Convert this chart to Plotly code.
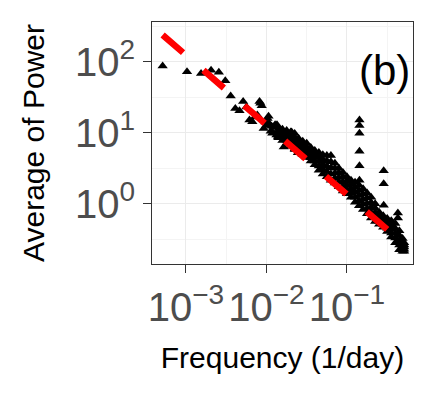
import plotly.graph_objects as go

# low-frequency points (read individually)
low_freq = [0.000513, 0.00103, 0.00154, 0.00205, 0.00256, 0.00308, 0.00359, 0.0041,
            0.00462, 0.00513, 0.00564, 0.00615, 0.00667, 0.00718, 0.00769, 0.0082,
            0.00872, 0.00923, 0.00974, 0.0103, 0.0108, 0.0113, 0.0118, 0.0123,
            0.0128, 0.0133, 0.0144, 0.0154, 0.0164, 0.0174, 0.0185, 0.0195,
            0.0205, 0.0215, 0.0226, 0.0236, 0.0246, 0.0256,
            0.0084, 0.0099, 0.0106, 0.0116, 0.0121, 0.0135, 0.0139]
low_power = [87, 72, 68, 76, 71, 54, 33, 22,
             20.4, 27.5, 23, 15.1, 14.3, 16.6, 17.8, 27.5,
             24, 11.5, 14.1, 15.8, 13.5, 10.5, 9.8, 12,
             12.9, 9.3, 10.5, 8.5, 6.3, 8.9, 7.6, 8.3,
             10.2, 6.9, 5.8, 7.6, 5.2, 6.6,
             26, 12.6, 17, 12.3, 10, 12.9, 8.7]

# dense high-frequency band: estimated spread of points per frequency,
# from the top of the band down to its bottom
band_freq = [0.0141, 0.0158, 0.0178, 0.0200, 0.0224,
             0.0251, 0.0282, 0.0316, 0.0355, 0.0398, 0.0447, 0.0501, 0.0562,
             0.0631, 0.0708, 0.0794, 0.0891, 0.1, 0.1122, 0.1259, 0.1413,
             0.1585, 0.1778, 0.1995, 0.2239, 0.2512, 0.2818, 0.3162, 0.3548,
             0.3981, 0.4467, 0.4898, 0.5129]
band_p1 = [11.5, 11.2, 10.7, 10.2, 9.77,
           8.32, 7.59, 7.08, 6.17, 5.62, 5.25, 4.90, 4.79,
           4.79, 3.72, 3.16, 2.75, 2.40, 2.14, 2.00, 1.82,
           1.62, 1.41, 1.23, 1.00, 0.759, 0.676, 0.617, 0.575,
           0.525, 0.417, 0.324, 0.282]
band_p2 = [10.7, 10.2, 9.66, 9.12, 8.61,
           7.45, 6.80, 6.31, 5.53, 5.01, 4.55, 4.19, 4.03,
           3.91, 3.16, 2.72, 2.37, 2.09, 1.86, 1.70, 1.54,
           1.37, 1.20, 1.04, 0.866, 0.688, 0.617, 0.556, 0.504,
           0.449, 0.357, 0.292, 0.263]
band_p3 = [9.89, 9.33, 8.71, 8.13, 7.59,
           6.68, 6.10, 5.62, 4.95, 4.47, 3.94, 3.59, 3.39,
           3.20, 2.69, 2.34, 2.04, 1.82, 1.62, 1.45, 1.30,
           1.16, 1.01, 0.881, 0.750, 0.624, 0.562, 0.501, 0.442,
           0.385, 0.305, 0.263, 0.245]
band_p4 = [9.17, 8.51, 7.85, 7.24, 6.68,
           5.99, 5.47, 5.01, 4.44, 3.98, 3.41, 3.07, 2.85,
           2.62, 2.29, 2.02, 1.76, 1.58, 1.41, 1.23, 1.10,
           0.983, 0.856, 0.746, 0.649, 0.566, 0.513, 0.452, 0.387,
           0.329, 0.262, 0.237, 0.229]
band_p5 = [8.51, 7.76, 7.08, 6.46, 5.89,
           5.37, 4.90, 4.47, 3.98, 3.55, 2.95, 2.63, 2.40,
           2.14, 1.95, 1.74, 1.51, 1.38, 1.23, 1.05, 0.933,
           0.832, 0.724, 0.631, 0.562, 0.513, 0.468, 0.407, 0.339,
           0.282, 0.224, 0.214, 0.214]

# weekly peaks (1/7, 2/7, 3/7 per day)
spike_freq = [0.1429, 0.1429, 0.1429, 0.1429, 0.1429, 0.1429,
              0.2857, 0.2857, 0.2857, 0.4286, 0.4286]
spike_power = [15.1, 12.6, 9.8, 5.5, 3.43, 2.14,
               2.92, 1.91, 0.955, 0.74, 0.63]

# fitted power law
fit_freq = [0.000513, 0.5]
fit_power = [238, 0.277]

x_ticks = [0.001, 0.01, 0.1]
x_ticktext = ["10<sup>\u22123</sup>", "10<sup>\u22122</sup>", "10<sup>\u22121</sup>"]
y_ticks = [1, 10, 100]
y_ticktext = ["10<sup>0</sup>", "10<sup>1</sup>", "10<sup>2</sup>"]
x_minor = [0.000316, 0.00316, 0.0316, 0.316]
y_minor = [0.316, 3.16, 31.6, 316]

freq = low_freq + band_freq * 5 + spike_freq
power = low_power + band_p1 + band_p2 + band_p3 + band_p4 + band_p5 + spike_power

fig = go.Figure()
fig.add_trace(
    go.Scatter(
        x=freq,
        y=power,
        mode="markers",
        marker=dict(symbol="triangle-up", size=9, color="black"),
    )
)
fig.add_trace(
    go.Scatter(
        x=fit_freq,
        y=fit_power,
        mode="lines",
        line=dict(color="#FF0000", width=6.5, dash="27px,27px"),
    )
)

fig.add_annotation(
    x=0.889, y=0.80, xref="paper", yref="paper",
    xanchor="center", yanchor="middle",
    text="(b)", showarrow=False,
    font=dict(size=42, color="black"),
)

axis_style = dict(
    type="log",
    tickangle=0,
    tickfont=dict(size=40, color="#4D4D4D"),
    ticks="outside",
    ticklen=8,
    tickcolor="#333333",
    showline=True,
    linecolor="#333333",
    linewidth=1,
    mirror=True,
    showgrid=True,
    gridcolor="#EBEBEB",
    gridwidth=1,
    zeroline=False,
)

fig.update_xaxes(
    **axis_style,
    range=[-3.422, -0.180],
    tickmode="array",
    tickvals=x_ticks,
    ticktext=x_ticktext,
    minor=dict(tickvals=x_minor, showgrid=True, gridcolor="#F4F4F4", ticks=""),
    title=dict(text="Frequency (1/day)", font=dict(size=30, color="black"), standoff=18),
)
fig.update_yaxes(
    **axis_style,
    range=[-0.849, 2.559],
    tickmode="array",
    tickvals=y_ticks,
    ticktext=y_ticktext,
    minor=dict(tickvals=y_minor, showgrid=True, gridcolor="#F4F4F4", ticks=""),
    title=dict(text="Average of Power", font=dict(size=30, color="black"), standoff=21),
)

fig.update_layout(
    width=436,
    height=395,
    margin=dict(l=152, r=23, t=22, b=131),
    paper_bgcolor="white",
    plot_bgcolor="white",
    font=dict(family="Liberation Sans, Arial, sans-serif"),
    showlegend=False,
)

fig.write_html("out.html", config={"displayModeBar": False})

# drop the default page margin so the figure sits at the window's corner
with open("out.html", encoding="utf-8") as f:
    page = f.read()
page = page.replace("<body>", '<body style="margin:0">', 1)
with open("out.html", "w", encoding="utf-8") as f:
    f.write(page)
